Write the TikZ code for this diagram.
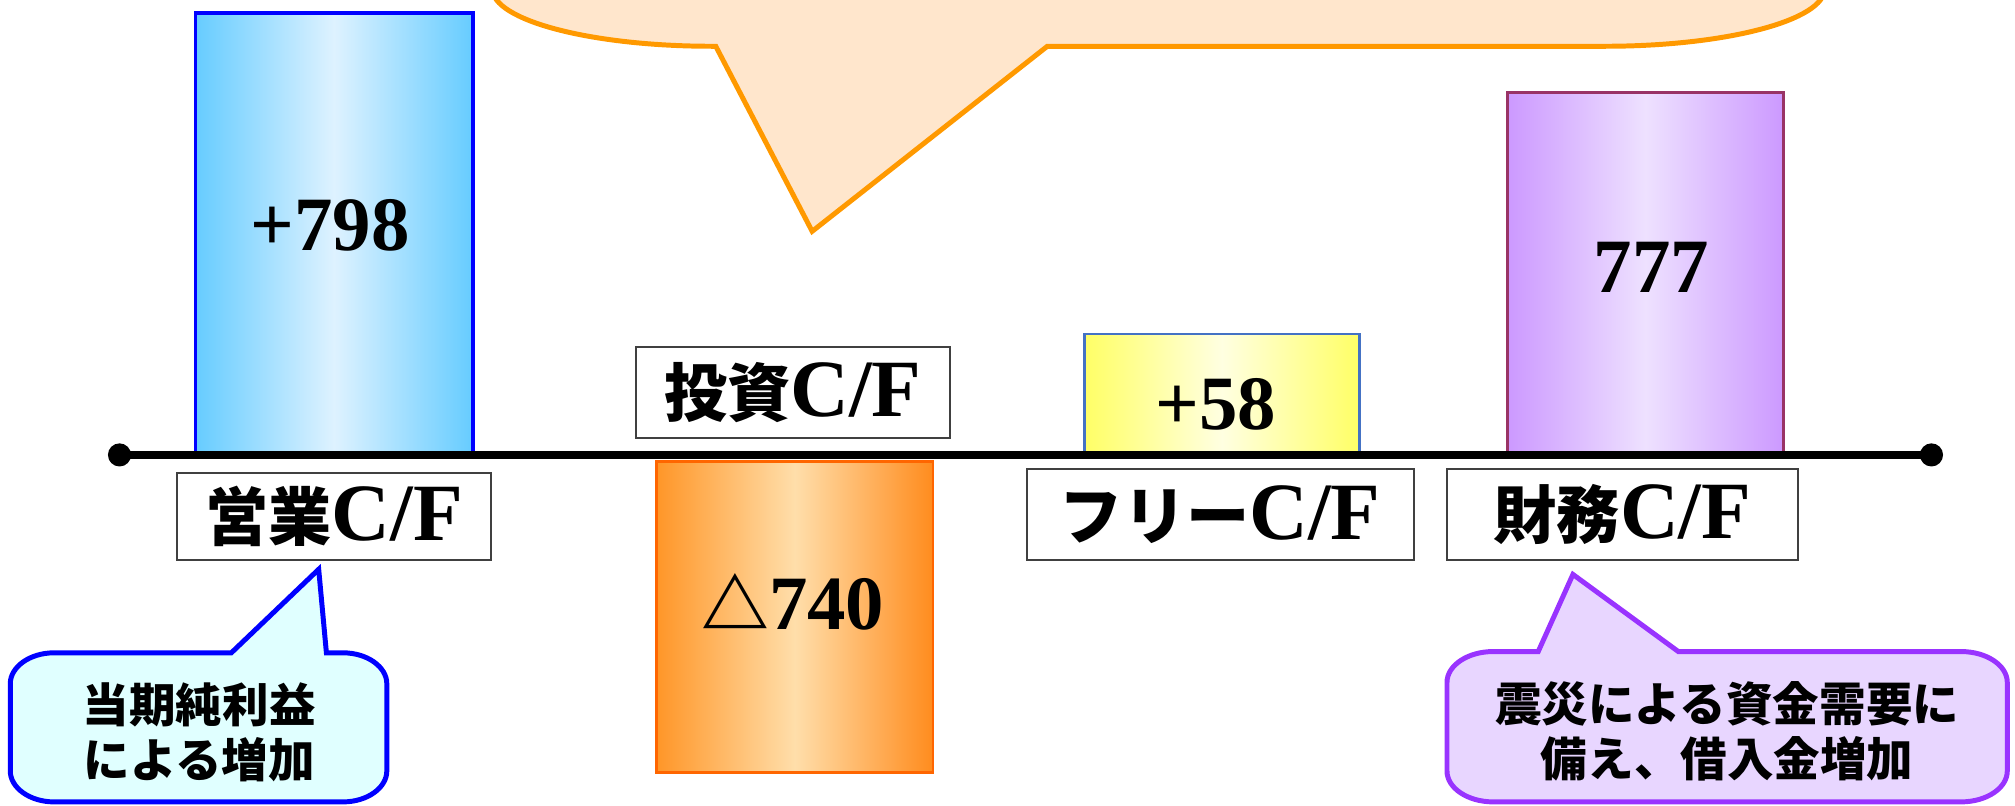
\documentclass[tikz,border=0pt]{standalone}
\usepackage{fontspec}
\setmainfont{Liberation Serif}
\newfontfamily\jp{Noto Sans CJK JP}
\newcommand{\jlab}[1]{{\jp\fontsize{14}{14}\selectfont #1}}
\begin{document}
\begin{tikzpicture}[x=0.01cm,y=-0.01cm,
    cfbox/.style={draw=black!75,line width=0.5pt,fill=white,inner sep=0pt,
      font=\fontsize{18}{18}\selectfont\bfseries},
    val/.style={font=\fontsize{17}{17}\selectfont\bfseries},
    note/.style={align=center,inner sep=0pt,
      font=\jp\fontsize{10.3}{12.2}\selectfont\bfseries},
    callout/.style={line width=1.1pt,line join=miter}]
  \useasboundingbox (0,0) rectangle (1568,627);
  \clip (0,0) rectangle (1568,627);
  \draw[callout,draw={rgb,255:red,255;green,153;blue,0},fill={rgb,255:red,255;green,230;blue,204}]
    (383,-80) -- (383,-9) .. controls (383,15.8) and (459.6,36) .. (554,36)
    -- (557,36) -- (632,180) -- (815,36) -- (1249,36)
    .. controls (1343.4,36) and (1420,15.8) .. (1420,-9) -- (1420,-80) -- cycle;
  \draw[draw={rgb,255:red,0;green,0;blue,255},line width=0.8pt,
      left color={rgb,255:red,102;green,204;blue,255},right color={rgb,255:red,102;green,204;blue,255},
      middle color={rgb,255:red,222;green,242;blue,255}]
    (152,10) rectangle (368,354);
  \draw[draw={rgb,255:red,255;green,102;blue,0},line width=0.6pt,
      left color={rgb,255:red,255;green,150;blue,40},right color={rgb,255:red,255;green,140;blue,30},
      middle color={rgb,255:red,255;green,222;blue,170}]
    (511,359) rectangle (726,601);
  \draw[draw={rgb,255:red,68;green,114;blue,196},line width=0.6pt,
      left color={rgb,255:red,255;green,255;blue,102},right color={rgb,255:red,255;green,255;blue,102},
      middle color={rgb,255:red,255;green,255;blue,225}]
    (844,260) rectangle (1058,354);
  \draw[draw={rgb,255:red,153;green,51;blue,102},line width=0.6pt,
      left color={rgb,255:red,204;green,153;blue,255},right color={rgb,255:red,204;green,153;blue,255},
      middle color={rgb,255:red,238;green,225;blue,255}]
    (1173,72) rectangle (1388,354);
  \coordinate (axl) at (93,354);
  \coordinate (axr) at (1503,354);
  \draw[line width=1.8pt] (axl) -- (axr);
  \fill (axl) circle (0.09cm);
  \fill (axr) circle (0.09cm);
  \node[val] (opv) at (257,175) {+798};
  \node[val] (inv) at (617,468) {{\jp\fontsize{15}{15}\selectfont △}740};
  \node[val] (frv) at (946,315) {+58};
  \node[val] (fiv) at (1285,208) {777};
  \node[cfbox,minimum width=2.44cm,minimum height=0.68cm] (op) at (260,402) {\jlab{営業}C/F};
  \node[cfbox,minimum width=2.44cm,minimum height=0.71cm] (in) at (617,305.5) {\jlab{投資}C/F};
  \node[cfbox,minimum width=3.01cm,minimum height=0.71cm] (fr) at (949.5,400.5) {\jlab{フリー}C/F};
  \node[cfbox,minimum width=2.73cm,minimum height=0.71cm] (fi) at (1262.5,400.5) {\jlab{財務}C/F};
  \draw[callout,draw={rgb,255:red,0;green,0;blue,255},fill={rgb,255:red,224;green,255;blue,255}]
    (42,508) -- (180,508) -- (248,443) -- (254,508) -- (267,508)
    .. controls (285.8,508) and (301,519) .. (301,532)
    -- (301,600) .. controls (301,613) and (285.8,624) .. (267,624)
    -- (42,624) .. controls (23.2,624) and (8,613) .. (8,600)
    -- (8,532) .. controls (8,519) and (23.2,508) .. (42,508) -- cycle;
  \draw[callout,draw={rgb,255:red,153;green,51;blue,255},fill={rgb,255:red,232;green,214;blue,255}]
    (1162,507) -- (1197,507) -- (1224,447) -- (1306,507) -- (1526,507)
    .. controls (1545.9,507) and (1562,517.8) .. (1562,531)
    -- (1562,600) .. controls (1562,613.2) and (1545.9,624) .. (1526,624)
    -- (1162,624) .. controls (1142.1,624) and (1126,613.2) .. (1126,600)
    -- (1126,531) .. controls (1126,517.8) and (1142.1,507) .. (1162,507) -- cycle;
  \node[note] (opn) at (155,570) {当期純利益\\による増加};
  \node[note] (fin) at (1344,569) {震災による資金需要に\\備え、借入金増加};
\end{tikzpicture}
\end{document}
